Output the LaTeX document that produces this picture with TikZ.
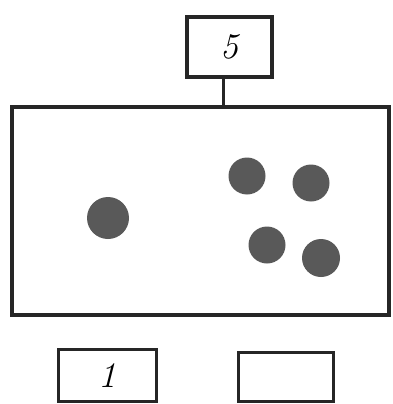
\documentclass[tikz,border=0pt]{standalone}
\usepackage{fontspec}
\begin{document}
\begin{tikzpicture}[x=1pt,y=-1pt,
  box/.style={draw=black!85,line width=3.2pt},
  dot/.style={circle,fill=black!65,draw=none,inner sep=0pt},
  lbl/.style={font=\fontsize{36}{36}\selectfont\itshape}]
\useasboundingbox[fill=white] (0,0) rectangle (392,404);
\node[box,minimum width=85pt,minimum height=60pt,inner sep=0pt,lbl] (top) at (229.5,47) {5};
\node[box,minimum width=377pt,minimum height=208pt,inner sep=0pt] (main) at (200.5,211) {};
\coordinate (c) at (223,0);
\draw[line width=3pt,black!85] (top.south -| c) -- (main.north -| c);
\node[dot,minimum size=42pt] (d1) at (108,218) {};
\node[dot,minimum size=37pt] (d2) at (247,176) {};
\node[dot,minimum size=37pt] (d3) at (311,183) {};
\node[dot,minimum size=37pt] (d4) at (267,245) {};
\node[dot,minimum size=38pt] (d5) at (321,258) {};
\node[box,minimum width=98pt,minimum height=52pt,inner sep=0pt,lbl,anchor=north west] (b1) at (57,348) {1};
\node[box,minimum width=95pt,minimum height=49pt,inner sep=0pt,anchor=north west] (b2) at (237,351) {};
\end{tikzpicture}
\end{document}
